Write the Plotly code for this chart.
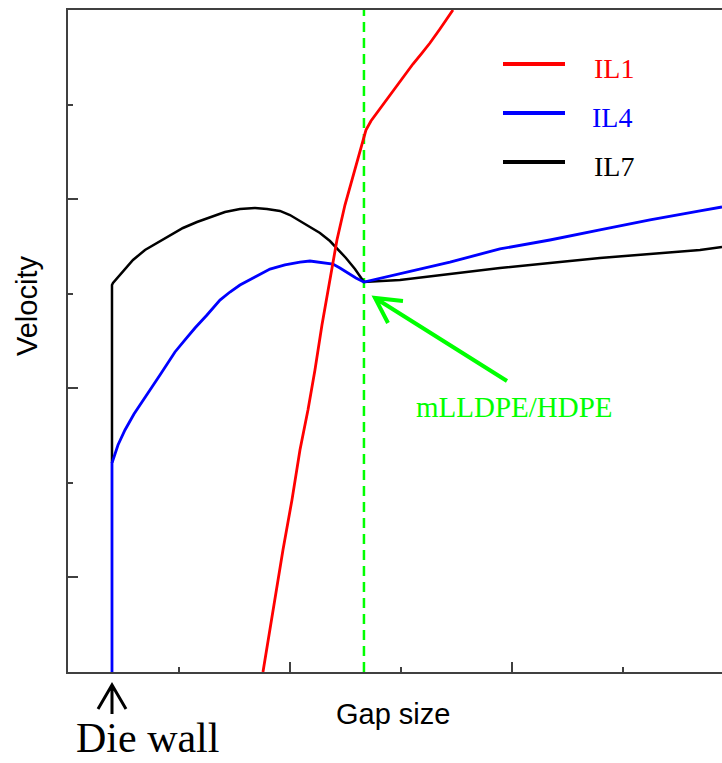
import plotly.graph_objects as go

# ---- data (x: gap size units, y: velocity units) ----
il1_x = [1.755, 1.845, 1.935, 2.016, 2.088, 2.160, 2.223, 2.286, 2.358, 2.421, 2.493, 2.556, 2.610, 2.646, 2.682,
         2.727, 2.781, 2.853, 2.925, 3.015, 3.105, 3.186, 3.258, 3.348, 3.411, 3.465]
il1_y = [0.000, 0.656, 1.290, 1.819, 2.347, 2.770, 3.193, 3.669, 4.145, 4.568, 4.938, 5.202, 5.414, 5.572, 5.731,
         5.826, 5.911, 6.027, 6.143, 6.292, 6.429, 6.545, 6.651, 6.799, 6.905, 7.000]

il4_x = [0.396, 0.396, 0.450, 0.513, 0.594, 0.675, 0.756, 0.828, 0.900, 0.963, 1.053, 1.143, 1.251, 1.368, 1.458,
         1.548, 1.683, 1.818, 1.953, 2.088, 2.178, 2.268, 2.385, 2.448, 2.520, 2.592, 2.664,
         2.988, 3.438, 3.888, 4.338, 4.788, 5.239, 5.689, 5.887]
il4_y = [0.000, 2.210, 2.400, 2.559, 2.728, 2.876, 3.014, 3.140, 3.267, 3.384, 3.511, 3.637, 3.775, 3.933, 4.018,
         4.092, 4.177, 4.261, 4.304, 4.335, 4.346, 4.335, 4.314, 4.272, 4.219, 4.166, 4.124,
         4.209, 4.335, 4.473, 4.568, 4.674, 4.780, 4.875, 4.917]

il7_x = [0.396, 0.396, 0.405, 0.468, 0.585, 0.693, 0.801, 0.918, 1.035, 1.161, 1.278, 1.413, 1.548, 1.683, 1.791,
         1.908, 1.998, 2.088, 2.178, 2.268, 2.358, 2.430, 2.502, 2.583, 2.664,
         2.988, 3.438, 3.888, 4.338, 4.788, 5.239, 5.689, 5.887]
il7_y = [2.210, 4.092, 4.113, 4.198, 4.357, 4.462, 4.536, 4.610, 4.695, 4.758, 4.811, 4.864, 4.896, 4.906, 4.896,
         4.875, 4.832, 4.769, 4.706, 4.642, 4.557, 4.473, 4.378, 4.261, 4.124,
         4.145, 4.209, 4.272, 4.325, 4.378, 4.420, 4.462, 4.494]

interface_x = 2.664
x_range = [0, 5.887]
y_range = [0, 7]

series_names = ["IL1", "IL4", "IL7"]
series_colors = ["#ff0000", "#0000ff", "#000000"]
GREEN = "#00ff00"

W, H = 722, 763
ML, MR, MT, MB = 68, 0, 10, 91
PW, PH = W - ML - MR, H - MT - MB


def px(xp):
    return (xp - ML) / PW


def py(yp):
    return (MT + PH - yp) / PH


fig = go.Figure()

fig.add_trace(go.Scatter(x=[interface_x, interface_x], y=y_range, mode="lines",
                         line=dict(color=GREEN, width=2.5, dash="10px,6px"), showlegend=False, hoverinfo="skip"))
fig.add_trace(go.Scatter(x=il7_x, y=il7_y, mode="lines", name="IL7",
                         line=dict(color=series_colors[2], width=2.5), showlegend=False))
fig.add_trace(go.Scatter(x=il4_x, y=il4_y, mode="lines", name="IL4",
                         line=dict(color=series_colors[1], width=2.8), showlegend=False))
fig.add_trace(go.Scatter(x=il1_x, y=il1_y, mode="lines", name="IL1",
                         line=dict(color=series_colors[0], width=2.8), showlegend=False))

shapes = []
annotations = []

# custom legend
leg_y = [64, 113, 162]
leg_text_x = [592, 590, 592]
for name, col, ly, tx in zip(series_names, series_colors, leg_y, leg_text_x):
    shapes.append(dict(type="line", xref="paper", yref="paper", x0=px(503), x1=px(565), y0=py(ly), y1=py(ly),
                       line=dict(color=col, width=4)))
    annotations.append(dict(text=name, xref="paper", yref="paper", x=px(tx), y=py(ly + 4), xanchor="left",
                            yanchor="middle", showarrow=False,
                            font=dict(family="Liberation Serif", size=28, color=col)))

# green arrow to interface
shapes.append(dict(type="path", xref="paper", yref="paper",
                   path=f"M{px(507)},{py(381)} L{px(375)},{py(298)} M{px(403)},{py(301)} L{px(375)},{py(298)} L{px(388)},{py(323)}",
                   line=dict(color=GREEN, width=4)))
annotations.append(dict(text="mLLDPE/HDPE", xref="paper", yref="paper", x=px(414), y=py(407), xanchor="left",
                        yanchor="middle", showarrow=False,
                        font=dict(family="Liberation Serif", size=29, color=GREEN)))

# die wall arrow
shapes.append(dict(type="path", xref="paper", yref="paper",
                   path=f"M{px(112)},{py(714)} L{px(112)},{py(685)} M{px(98)},{py(709)} L{px(112)},{py(685)} L{px(126)},{py(709)}",
                   line=dict(color="#000000", width=3)))
annotations.append(dict(text="Die wall", xref="paper", yref="paper", x=px(74), y=py(763), xanchor="left",
                        yanchor="bottom", showarrow=False,
                        font=dict(family="Liberation Serif", size=42, color="#000000")))

# axis titles
annotations.append(dict(text="Gap size", xref="paper", yref="paper", x=px(393), y=py(714), xanchor="center",
                        yanchor="middle", showarrow=False,
                        font=dict(family="Liberation Sans", size=29, color="#000000")))
annotations.append(dict(text="Velocity", xref="paper", yref="paper", x=px(27), y=py(306), xanchor="center",
                        yanchor="middle", showarrow=False, textangle=-90,
                        font=dict(family="Liberation Sans", size=29, color="#000000")))

axis_col = "#404040"
fig.update_layout(
    width=W, height=H,
    margin=dict(l=ML, r=MR, t=MT, b=MB, pad=0),
    paper_bgcolor="white", plot_bgcolor="white",
    shapes=shapes, annotations=annotations,
    xaxis=dict(range=x_range, showgrid=False, zeroline=False, showline=True, linecolor=axis_col, linewidth=2,
               mirror=True, ticks="inside", tick0=0, dtick=2, ticklen=10, tickwidth=1.5, tickcolor=axis_col,
               showticklabels=False,
               minor=dict(dtick=1, tick0=0, ticks="inside", ticklen=5, tickwidth=1.5, tickcolor=axis_col, showgrid=False)),
    yaxis=dict(range=y_range, showgrid=False, zeroline=False, showline=True, linecolor=axis_col, linewidth=2,
               ticks="inside", tick0=1, dtick=2, ticklen=10, tickwidth=1.5, tickcolor=axis_col,
               showticklabels=False,
               minor=dict(dtick=1, tick0=0, ticks="inside", ticklen=5, tickwidth=1.5, tickcolor=axis_col, showgrid=False)),
)

fig.write_html("out.html")
